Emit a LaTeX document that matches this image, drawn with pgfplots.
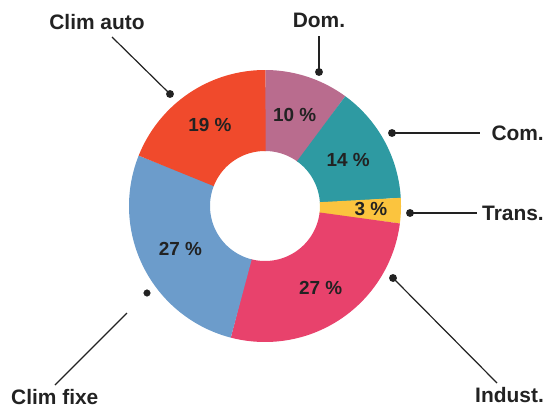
\documentclass[border=0pt]{standalone}
\usepackage{pgfplots}
\pgfplotsset{compat=1.18}
\usepackage{pgfplotstable}
\usepackage{fontspec}
\setmainfont{Liberation Sans}
\definecolor{c0}{HTML}{B96C8E}
\definecolor{c1}{HTML}{2E9AA2}
\definecolor{c2}{HTML}{FBC43E}
\definecolor{c3}{HTML}{E8426C}
\definecolor{c4}{HTML}{6C9CCB}
\definecolor{c5}{HTML}{F04A2C}
\definecolor{txt}{HTML}{222222}
\newcommand\pctfont{\fontsize{19}{21}\selectfont\bfseries}
\newcommand\catfont{\fontsize{21}{23}\selectfont\bfseries}
\pgfplotstableread{
name value lr
Dom 10 96
Com 14 95
Trans 3 106
Indust 27 99
Climfixe 27 95
Climauto 19 98
}\shares
\begin{document}
\begin{tikzpicture}
\begin{axis}[x=1bp, y=1bp, xmin=0, xmax=545, ymin=0, ymax=410,
  hide axis, clip=false]
\addplot[draw=none] coordinates {(0,0) (545,410)};
\def\cum{0}
\pgfplotsforeachungrouped \i in {0,...,5}{%
  \pgfplotstablegetelem{\i}{value}\of\shares
  \let\v\pgfplotsretval
  \pgfplotstablegetelem{\i}{lr}\of\shares
  \let\lr\pgfplotsretval
  \pgfmathsetmacro\a{90-3.6*\cum}
  \pgfmathsetmacro\b{90-3.6*(\cum+\v)-0.3}
  \pgfmathsetmacro\m{(\a+\b+0.3)/2}
  \pgfmathsetmacro\cum{\cum+\v}
  \pgfmathtruncatemacro\ns{3*\v+3}
  \pgfmathsetmacro\px{265+\lr*cos(\m)}
  \pgfmathsetmacro\py{204+\lr*sin(\m)}
  \edef\temp{\noexpand\addplot[draw=c\i, line width=81bp, domain=\b:\a, samples=\ns]
     ({265+95.5*cos(x)},{204+95.5*sin(x)});
   \noexpand\node[font=\noexpand\pctfont, text=txt] at (axis cs:\px,\py) {\v\noexpand\ \noexpand\%};}
  \temp
}
% callouts
\addplot[txt, line width=1.2bp, mark=*, mark size=3.3bp, mark indices={1}] coordinates {(319,338) (319,374)};
\addplot[txt, line width=1.2bp, mark=*, mark size=3.3bp, mark indices={1}] coordinates {(392,277) (480,277)};
\addplot[txt, line width=1.2bp, mark=*, mark size=3.3bp, mark indices={1}] coordinates {(410,197) (477,197)};
\addplot[txt, line width=1.2bp, mark=*, mark size=3.3bp, mark indices={1}] coordinates {(393,132) (497,27)};
\addplot[txt, only marks, mark=*, mark size=3.3bp] coordinates {(147,117)};
\addplot[txt, line width=1.2bp] coordinates {(127,97) (55,25)};
\addplot[txt, line width=1.2bp, mark=*, mark size=3.3bp, mark indices={2}] coordinates {(112,373) (170,316)};
\node[font=\catfont, text=txt] at (axis cs:319,390) {Dom.};
\node[font=\catfont, text=txt, anchor=east, inner sep=0pt] at (axis cs:544,277) {Com.};
\node[font=\catfont, text=txt, anchor=east, inner sep=0pt] at (axis cs:544,197) {Trans.};
\node[font=\catfont, text=txt, anchor=east, inner sep=0pt] at (axis cs:544,15) {Indust.};
\node[font=\catfont, text=txt, anchor=west, inner sep=0pt] at (axis cs:11,13) {Clim fixe};
\node[font=\catfont, text=txt] at (axis cs:97,388) {Clim auto};
\end{axis}
\end{tikzpicture}
\end{document}
